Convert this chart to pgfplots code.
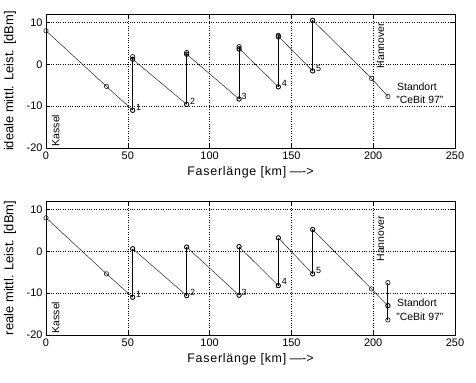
\documentclass[border=0pt]{standalone}
\usepackage{fontspec}
\setmainfont{Liberation Sans}
\newfontfamily\labfont[LetterSpace=6]{Liberation Sans}
\usepackage{pgfplots}
\pgfplotsset{compat=1.18}
\tikzset{
  nlab/.style={font=\fontsize{9}{10}\selectfont, anchor=west, inner sep=0pt},
  tlab/.style={font=\fontsize{10.5}{12}\selectfont, anchor=west, inner sep=0pt},
}
\begin{document}
\begin{tikzpicture}
\useasboundingbox (0,0) rectangle (476bp,383bp);
\pgfplotsset{
  myax/.style={
    scale only axis, width=409bp, height=134bp,
    xmin=0,xmax=250,ymin=-20,ymax=12,
    xtick={0,50,...,250}, ytick={-20,-10,0,10},
    grid=major, major grid style={black, dotted, line width=0.5pt},
    tick align=inside, major tick length=4bp,
    axis line style={black, line width=0.6pt},
    tick style={black, line width=0.5pt},
    tick label style={font=\fontsize{11}{13}\selectfont},
    /pgf/number format/assume math mode=true,
    xlabel={{\labfont Faserlänge [km]} ---{}->},
    xlabel style={font=\fontsize{12.5}{14}\selectfont, at={(axis description cs:0.5,0)}, anchor=center, yshift=-24bp},
    ylabel style={font=\fontsize{13}{15}\selectfont, at={(axis description cs:-0.088,0.5)}, anchor=center},
    clip=false,
  },
  lseg/.style={black, line width=0.4pt, mark=o, mark size=2.2bp, mark options={line width=0.5pt, solid}},
  aseg/.style={black, line width=1.1pt, mark=o, mark size=2.2bp, mark options={line width=0.6pt, solid}},
}
% ---------------- top axis ----------------
\begin{axis}[myax, at={(46bp,235bp)}, anchor=south west,
  ylabel={ideale mittl. Leist. [dBm]}]
\addplot[lseg] coordinates {(0,8) (37,-5.3) (53,-11)};
\addplot[aseg] coordinates {(53,-11) (53,1.2) (53,1.8)};
\addplot[lseg] coordinates {(53,1.2) (86,-9.6)};
\addplot[aseg] coordinates {(86,-9.6) (86,2.4) (86,2.8)};
\addplot[lseg] coordinates {(86,2.4) (118,-8.3)};
\addplot[aseg] coordinates {(118,-8.3) (118,3.6) (118,4.2)};
\addplot[lseg] coordinates {(118,3.8) (142,-5.4)};
\addplot[aseg] coordinates {(142,-5.4) (142,6.5) (142,6.9)};
\addplot[lseg] coordinates {(142,6.7) (163,-1.6)};
\addplot[aseg] coordinates {(163,-1.6) (163,10.5)};
\addplot[lseg] coordinates {(163,10.5) (199,-3.4) (209,-7.7)};
\node[nlab] at (axis cs:55,-10.2) {1};
\node[nlab] at (axis cs:88,-8.8) {2};
\node[nlab] at (axis cs:119.5,-7.6) {3};
\node[nlab] at (axis cs:144,-4.5) {4};
\node[nlab] at (axis cs:165,-0.9) {5};
\node[tlab, rotate=90] at (axis cs:5.9,-19.6) {Kassel};
\node[tlab, rotate=90] at (axis cs:204.5,-1) {Hannover};
\node[tlab] at (axis cs:214.5,-5.3) {Standort};
\node[tlab] at (axis cs:214,-8.4) {"CeBit 97"};
\end{axis}
% ---------------- bottom axis ----------------
\begin{axis}[myax, at={(46bp,48bp)}, anchor=south west,
  ylabel={reale mittl. Leist. [dBm]}]
\addplot[lseg] coordinates {(0,8) (37,-5.4) (53,-11)};
\addplot[aseg] coordinates {(53,-11) (53,0.6)};
\addplot[lseg] coordinates {(53,0.6) (86,-10.6)};
\addplot[aseg] coordinates {(86,-10.6) (86,1)};
\addplot[lseg] coordinates {(86,1) (118,-10.5)};
\addplot[aseg] coordinates {(118,-10.5) (118,1.1)};
\addplot[lseg] coordinates {(118,1.1) (142,-8.2)};
\addplot[aseg] coordinates {(142,-8.2) (142,3.2)};
\addplot[lseg] coordinates {(142,3.2) (163,-5.4)};
\addplot[aseg] coordinates {(163,-5.4) (163,5.2)};
\addplot[lseg] coordinates {(163,5.2) (199,-9) (209,-13)};
\addplot[aseg] coordinates {(209,-16.4) (209,-13) (209,-7.5)};
\node[nlab] at (axis cs:55,-10.2) {1};
\node[nlab] at (axis cs:88,-9.8) {2};
\node[nlab] at (axis cs:119.5,-9.8) {3};
\node[nlab] at (axis cs:144,-7.3) {4};
\node[nlab] at (axis cs:165,-4.6) {5};
\node[tlab, rotate=90] at (axis cs:5.9,-19.6) {Kassel};
\node[tlab, rotate=90] at (axis cs:204.5,-2.5) {Hannover};
\node[tlab] at (axis cs:214.5,-12.3) {Standort};
\node[tlab] at (axis cs:214,-15.6) {"CeBit 97"};
\end{axis}
\end{tikzpicture}
\end{document}
